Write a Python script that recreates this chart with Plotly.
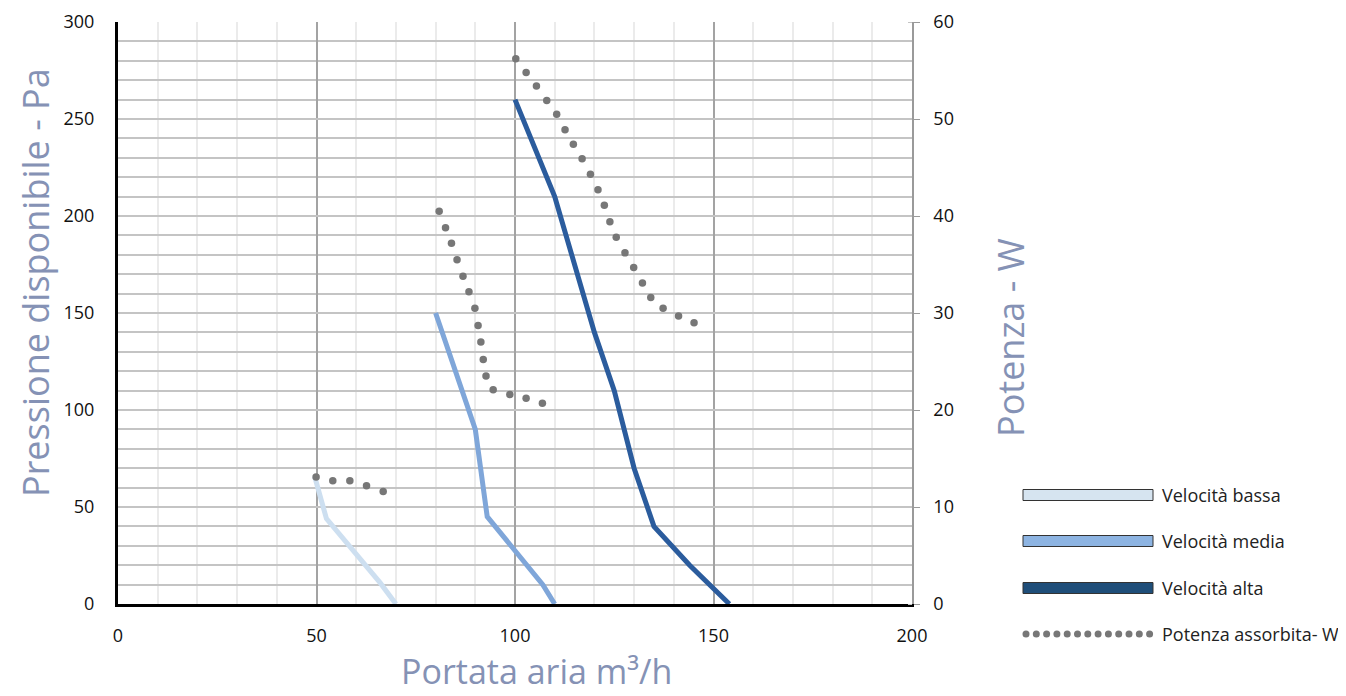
import plotly.graph_objects as go

# ---- data ----
bassa_x = [49.5, 52.5, 66, 70]
bassa_y = [66, 44, 11, 0]

media_x = [80, 90, 93, 107, 110]
media_y = [150, 90, 45, 10, 0]

alta_x = [100, 110, 120, 125, 130, 135, 144, 154]
alta_y = [260, 210, 140, 110, 70, 40, 20, 0]

# Potenza assorbita (W) - three segments, read dot by dot
pot_bassa_x = [49.9, 54.1, 58.4, 62.6, 66.8]
pot_bassa_w = [13.1, 12.7, 12.7, 12.2, 11.6]

pot_media_x = [80.9, 82.5, 84.0, 85.4, 86.9, 88.4, 89.9, 90.7, 91.4, 92.0, 92.7, 94.5, 98.7, 102.8, 106.9]
pot_media_w = [40.5, 38.8, 37.2, 35.5, 33.8, 32.2, 30.5, 28.7, 27.0, 25.2, 23.5, 22.1, 21.6, 21.2, 20.7]

pot_alta_x = [100.2, 102.8, 105.4, 108.0, 110.5, 112.6, 114.7, 116.9, 119.0, 120.9, 122.5, 123.9,
              125.5, 127.7, 129.9, 132.1, 134.2, 137.3, 141.2, 145.1]
pot_alta_w = [56.2, 54.8, 53.4, 51.9, 50.5, 48.9, 47.4, 45.9, 44.3, 42.7, 41.1, 39.4,
              37.8, 36.2, 34.7, 33.1, 31.6, 30.5, 29.7, 29.0]

legend_labels = ["Velocità bassa", "Velocità media", "Velocità alta", "Potenza assorbita- W"]

# ---- styles ----
C_BASSA = "#cddff0"
C_MEDIA = "#7fa6d9"
C_ALTA = "#2b5c9d"
C_DOT = "#777777"
TITLE_C = "#8592b5"
FONT = "Open Sans"

# page offset (browser body margin)
OFF = 8
PAGE_W, PAGE_H = 1346, 696
# plot area in page pixels
L, R, T, B = 118, 912, 22, 604
W, H = R - L, B - T


def px(xp):
    return (xp - L) / W


def py(yp):
    return (B - yp) / H


fig = go.Figure()

fig.add_trace(go.Scatter(x=bassa_x, y=bassa_y, mode="lines",
                         line=dict(color=C_BASSA, width=5), showlegend=False))
fig.add_trace(go.Scatter(x=media_x, y=media_y, mode="lines",
                         line=dict(color=C_MEDIA, width=5), showlegend=False))
fig.add_trace(go.Scatter(x=alta_x, y=alta_y, mode="lines",
                         line=dict(color=C_ALTA, width=5), showlegend=False))
for xs, ws in [(pot_bassa_x, pot_bassa_w), (pot_media_x, pot_media_w), (pot_alta_x, pot_alta_w)]:
    fig.add_trace(go.Scatter(x=xs, y=ws, yaxis="y2", mode="markers",
                             marker=dict(color=C_DOT, size=7.5, line=dict(width=0)),
                             showlegend=False))

TF = dict(family=FONT, size=18, color="#111111")

fig.update_layout(
    width=PAGE_W - OFF, height=PAGE_H - OFF,
    margin=dict(l=L - OFF, r=PAGE_W - R, t=T - OFF, b=PAGE_H - B, autoexpand=False),
    paper_bgcolor="white", plot_bgcolor="white",
    font=dict(family=FONT, size=18, color="#111111"),
    showlegend=False,
    xaxis=dict(range=[0, 200], tick0=0, dtick=50, showgrid=True, gridcolor="#a3a3a3",
               gridwidth=1.5,
               minor=dict(dtick=10, showgrid=True, gridcolor="#ebebeb", gridwidth=1.5),
               showline=True, linecolor="black", linewidth=3, zeroline=False,
               ticks="", ticklabelstandoff=13, tickfont=TF),
    yaxis=dict(range=[0, 300], tick0=0, dtick=50, showgrid=True, gridcolor="#c4c4c4",
               gridwidth=1.5,
               minor=dict(dtick=10, showgrid=True, gridcolor="#c4c4c4", gridwidth=1.5),
               showline=True, linecolor="black", linewidth=3, zeroline=False,
               ticks="", ticklabelstandoff=17, tickfont=TF),
    yaxis2=dict(range=[0, 60], dtick=10, overlaying="y", side="right", showgrid=False,
                showline=True, linecolor="#9a9a9a", linewidth=1.5, zeroline=False,
                ticks="outside", ticklen=6, tickcolor="#9a9a9a", ticklabelstandoff=10,
                minor=dict(dtick=2, ticks="inside", ticklen=4, tickcolor="#c4c4c4"),
                tickfont=TF),
)

ann = []
ann.append(dict(text="Pressione disponibile - Pa", x=px(35), y=py(283), xref="paper", yref="paper",
                showarrow=False, textangle=-90,
                font=dict(family=FONT, size=36, color=TITLE_C),
                xanchor="center", yanchor="middle"))
ann.append(dict(text="Potenza - W", x=px(1010), y=py(338), xref="paper", yref="paper",
                showarrow=False, textangle=-90,
                font=dict(family=FONT, size=36, color=TITLE_C),
                xanchor="center", yanchor="middle"))
ann.append(dict(text="Portata aria m³/h", x=px(536), y=py(671), xref="paper", yref="paper",
                showarrow=False, font=dict(family=FONT, size=34, color=TITLE_C),
                xanchor="center", yanchor="middle"))

shapes = []
leg_cols = ["#d6e4f0", "#8db4e2", "#1f4e79"]
leg_y = [495, 541, 588, 634]
for i, c in enumerate(leg_cols):
    yc = leg_y[i]
    shapes.append(dict(type="rect", xref="paper", yref="paper",
                       x0=px(1023), x1=px(1153), y0=py(yc + 5.5), y1=py(yc - 5.5),
                       fillcolor=c, line=dict(color="#333333", width=1)))
for k in range(13):
    cx = 1026 + k * 10.3
    shapes.append(dict(type="circle", xref="paper", yref="paper",
                       x0=px(cx - 3.5), x1=px(cx + 3.5), y0=py(leg_y[3] + 3.5), y1=py(leg_y[3] - 3.5),
                       fillcolor=C_DOT, line=dict(width=0)))
for i, lab in enumerate(legend_labels):
    ann.append(dict(text=lab, x=px(1160), y=py(leg_y[i]), xref="paper", yref="paper",
                    showarrow=False, xanchor="left", yanchor="middle",
                    font=dict(family=FONT, size=18, color="#222222")))

fig.update_layout(annotations=ann, shapes=shapes)
fig.write_html("out.html")
